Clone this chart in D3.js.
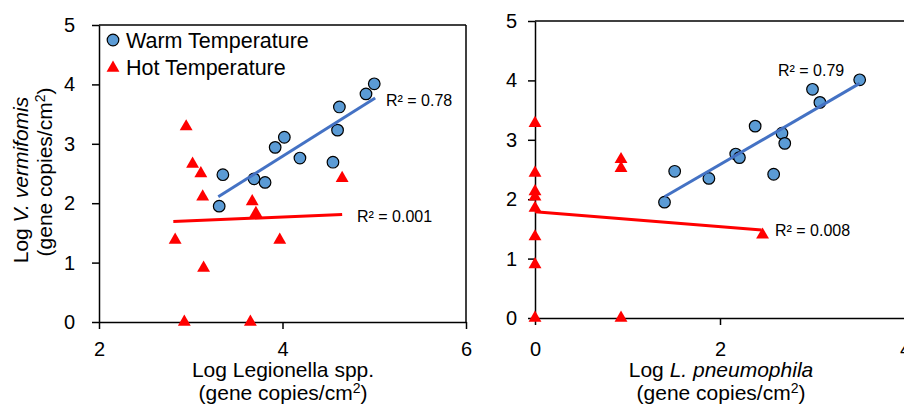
<!DOCTYPE html>
<html>
<head>
<meta charset="utf-8">
<script src="https://cdn.jsdelivr.net/npm/d3@7"></script>
<style>
  body { margin: 0; background: #fff; }
  svg text { font-family: "Liberation Sans", Arial, sans-serif; fill: #000; }
</style>
</head>
<body>
<svg id="main_svg" width="904" height="408"></svg>
<script>
// left panel: Log Legionella spp. vs Log V. vermifomis
const warmLegX = [3.35, 3.31, 3.69, 3.81, 3.92, 4.02, 4.19, 4.55, 4.60, 4.62, 4.91, 5.00]
const warmLegY = [2.48, 1.95, 2.41, 2.35, 2.94, 3.11, 2.76, 2.69, 3.23, 3.62, 3.84, 4.01]
const hotLegX = [2.95, 3.02, 3.11, 3.13, 2.83, 3.14, 2.93, 3.65, 3.67, 3.71, 3.97, 4.65]
const hotLegY = [3.29, 2.66, 2.50, 2.11, 1.38, 0.91, 0.00, 0.00, 2.03, 1.83, 1.38, 2.42]
const warmFitLeg = [[3.30, 2.11], [5.01, 3.77]]
const hotFitLeg = [[2.81, 1.69], [4.65, 1.81]]

// right panel: Log L. pneumophila vs Log V. vermifomis
const warmPneX = [1.40, 1.51, 1.88, 2.17, 2.21, 2.38, 2.58, 2.67, 2.70, 3.00, 3.08, 3.51]
const warmPneY = [1.95, 2.47, 2.35, 2.76, 2.70, 3.23, 2.42, 3.11, 2.94, 3.85, 3.63, 4.01]
const hotPneX = [0, 0, 0, 0, 0, 0, 0, 0, 0.93, 0.93, 0.93, 2.46]
const hotPneY = [3.28, 2.44, 2.13, 2.04, 1.85, 1.37, 0.90, 0.00, 2.67, 2.52, 0.00, 1.40]
const warmFitPne = [[1.40, 2.04], [3.51, 3.95]]
const hotFitPne = [[0, 1.79], [2.45, 1.48]]

const yTicks = [0, 1, 2, 3, 4, 5]
const xTicksLeg = [2, 4, 6]
const xTicksPne = [0, 2, 4]

const blue = "#5b9bd5"
const blueLine = "#4472c4"
const red = "#ff0000"

const svg = d3.select("#main_svg")

function zip(xs, ys) {
    return xs.map((x, i) => [x, ys[i]])
}

function draw_panel(opt) {
    const x = d3.scaleLinear().domain(opt.xDomain).range(opt.xRange)
    const y = d3.scaleLinear().domain([0, 5]).range(opt.yRange)
    const g = svg.append("g")

    // frame
    g.append("line")
        .attr("x1", opt.xRange[0]).attr("x2", opt.xRange[1])
        .attr("y1", opt.yRange[1]).attr("y2", opt.yRange[1])
        .attr("stroke", "#000").attr("stroke-width", 1.5)
    g.append("line")
        .attr("x1", opt.xRange[1]).attr("x2", opt.xRange[1])
        .attr("y1", opt.yRange[0]).attr("y2", opt.yRange[1])
        .attr("stroke", "#000").attr("stroke-width", 1.5)

    const ax = g.append("g")
        .attr("transform", "translate(0," + opt.yRange[0] + ")")
        .call(d3.axisBottom(x).tickValues(opt.xTicks).tickFormat(d3.format("d"))
            .tickSize(7).tickPadding(opt.xPad).tickSizeOuter(0))
    const ay = g.append("g")
        .attr("transform", "translate(" + opt.xRange[0] + ",0)")
        .call(d3.axisLeft(y).tickValues(yTicks).tickFormat(d3.format("d"))
            .tickSize(7).tickPadding(opt.yPad).tickSizeOuter(0))
    for (const a of [ax, ay]) {
        a.select(".domain").attr("stroke", "#000").attr("stroke-width", 1.5)
        a.selectAll(".tick line").attr("stroke", "#000").attr("stroke-width", 1.5)
        a.selectAll(".tick text")
            .attr("font-size", 20)
            .attr("font-family", "Liberation Sans, Arial, sans-serif")
            .attr("fill", "#000")
    }

    // markers
    g.selectAll(".warm")
        .data(zip(opt.warmX, opt.warmY))
        .join("circle")
        .attr("cx", d => x(d[0]))
        .attr("cy", d => y(d[1]))
        .attr("r", 5.8)
        .attr("fill", blue)
        .attr("stroke", "#000")
        .attr("stroke-width", 1.2)

    g.selectAll(".hot")
        .data(zip(opt.hotX, opt.hotY))
        .join("path")
        .attr("d", d3.symbol(d3.symbolTriangle, 72))
        .attr("transform", d => "translate(" + x(d[0]) + "," + y(d[1]) + ")")
        .attr("fill", red)

    // trend lines
    const line = d3.line().x(d => x(d[0])).y(d => y(d[1]))
    g.append("path").attr("d", line(opt.warmFit))
        .attr("stroke", blueLine).attr("stroke-width", 3).attr("fill", "none")
    g.append("path").attr("d", line(opt.hotFit))
        .attr("stroke", red).attr("stroke-width", 3).attr("fill", "none")

    for (const lab of opt.r2) {
        g.append("text")
            .attr("x", lab.x).attr("y", lab.y)
            .attr("font-size", 16)
            .text(lab.t)
    }

    // x title
    const t1 = g.append("text")
        .attr("x", opt.titleX).attr("y", 377)
        .attr("text-anchor", "middle")
        .attr("font-size", 21)
    t1.append("tspan").text("Log ")
    t1.append("tspan").attr("font-style", opt.titleItalic ? "italic" : "normal").text(opt.title)
    const t2 = g.append("text")
        .attr("x", opt.titleX).attr("y", 400)
        .attr("text-anchor", "middle")
        .attr("font-size", 21)
    t2.append("tspan").text("(gene copies/cm")
    t2.append("tspan").attr("font-size", 14).attr("dy", -7).text("2")
    t2.append("tspan").attr("dy", 7).text(")")
}

draw_panel({
    xDomain: [2, 6], xRange: [99, 466], yRange: [322, 25],
    xTicks: xTicksLeg, xPad: 13, yPad: 17,
    warmX: warmLegX, warmY: warmLegY, hotX: hotLegX, hotY: hotLegY,
    warmFit: warmFitLeg, hotFit: hotFitLeg,
    r2: [{x: 386, y: 106, t: "R² = 0.78"}, {x: 357, y: 222, t: "R² = 0.001"}],
    titleX: 283, title: "Legionella spp.", titleItalic: false
})

draw_panel({
    xDomain: [0, 4], xRange: [535, 905], yRange: [318, 21],
    xTicks: xTicksPne, xPad: 17, yPad: 11,
    warmX: warmPneX, warmY: warmPneY, hotX: hotPneX, hotY: hotPneY,
    warmFit: warmFitPne, hotFit: hotFitPne,
    r2: [{x: 778, y: 76, t: "R² = 0.79"}, {x: 775, y: 236, t: "R² = 0.008"}],
    titleX: 721, title: "L. pneumophila", titleItalic: true
})

// y title (left panel only)
const yt1 = svg.append("text")
    .attr("transform", "translate(28,180) rotate(-90)")
    .attr("text-anchor", "middle")
    .attr("font-size", 21)
yt1.append("tspan").text("Log ")
yt1.append("tspan").attr("font-style", "italic").text("V. vermifomis")
const yt2 = svg.append("text")
    .attr("transform", "translate(52,172) rotate(-90)")
    .attr("text-anchor", "middle")
    .attr("font-size", 21)
yt2.append("tspan").text("(gene copies/cm")
yt2.append("tspan").attr("font-size", 14).attr("dy", -7).text("2")
yt2.append("tspan").attr("dy", 7).text(")")

// legend
const legend = svg.append("g")
legend.append("circle")
    .attr("cx", 113).attr("cy", 40).attr("r", 5.8)
    .attr("fill", blue).attr("stroke", "#000").attr("stroke-width", 1.2)
legend.append("path")
    .attr("d", d3.symbol(d3.symbolTriangle, 72))
    .attr("transform", "translate(113,68)")
    .attr("fill", red)
legend.append("text").attr("x", 126).attr("y", 48).attr("font-size", 21.5).text("Warm Temperature")
legend.append("text").attr("x", 126).attr("y", 75).attr("font-size", 21.5).text("Hot Temperature")
</script>
</body>
</html>
